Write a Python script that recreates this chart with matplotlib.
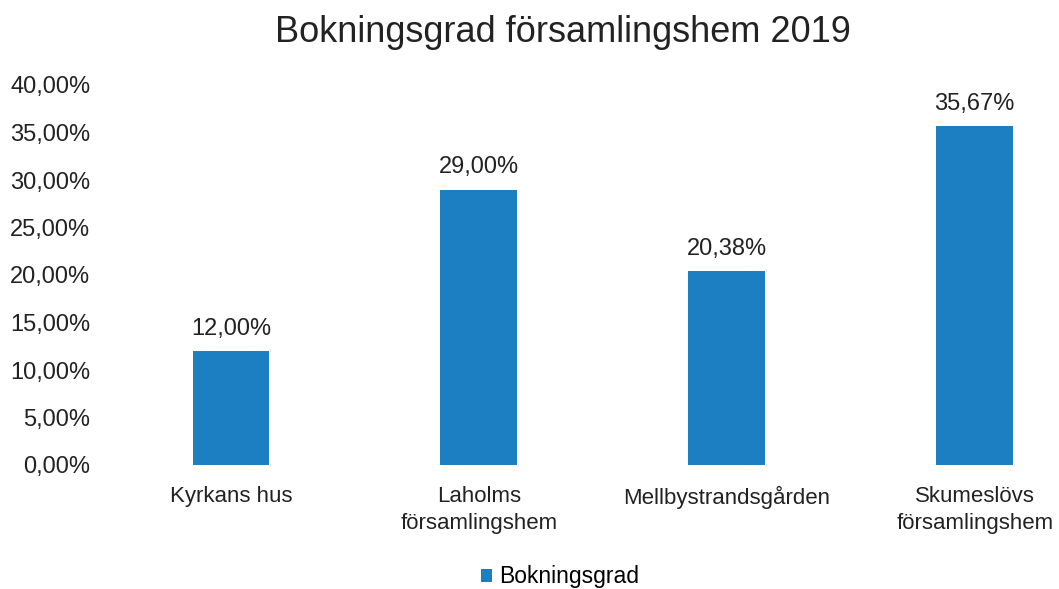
import numpy as np
import matplotlib.pyplot as plt
from matplotlib.ticker import FuncFormatter

plt.rcParams["font.family"] = ["Liberation Sans", "DejaVu Sans"]

categories = ["Kyrkans hus", "Laholms\nförsamlingshem", "Mellbystrandsgården", "Skumeslövs\nförsamlingshem"]
values = [0.12, 0.29, 0.2038, 0.3567]
value_labels = ["12,00%", "29,00%", "20,38%", "35,67%"]
yticks = [0.0, 0.05, 0.10, 0.15, 0.20, 0.25, 0.30, 0.35, 0.40]

bar_color = "#1B7FC1"

fig = plt.figure(figsize=(10.59, 5.89), dpi=100)
ax = fig.add_axes([107 / 1059, (589 - 465) / 589, (1059 - 107) / 1059, 380 / 589])

x = np.arange(len(categories))
bars = ax.bar(x, values, width=0.31, color=bar_color, label="Bokningsgrad")

for bar, lab in zip(bars, value_labels):
    ax.annotate(lab, (bar.get_x() + bar.get_width() / 2, bar.get_height()),
                xytext=(0, 8), textcoords="offset points",
                ha="center", va="bottom", fontsize=17, color="#222222")

ax.set_xlim(-0.5, 3.34)
ax.set_ylim(0, 0.40)
ax.set_yticks(yticks)
ax.yaxis.set_major_formatter(FuncFormatter(lambda v, p: f"{v * 100:.2f}%".replace(".", ",")))
ax.set_xticks(x)
ax.set_xticklabels(categories, fontsize=16, linespacing=1.4, color="#222222")
ax.tick_params(axis="y", length=0, pad=12, labelsize=17, labelcolor="#222222")
ax.tick_params(axis="x", length=0, pad=15)
for s in ax.spines.values():
    s.set_visible(False)

fig.suptitle("Bokningsgrad församlingshem 2019", x=563 / 1059, y=1 - 33 / 589,
             va="center", fontsize=26, color="#222222")

fig.legend(handles=[bars], labels=["Bokningsgrad"], loc="center",
           bbox_to_anchor=(560 / 1059, 1 - 577 / 589), frameon=False,
           fontsize=16.5, handlelength=0.5, handleheight=0.5, handletextpad=0.3)

fig.savefig("out.png", dpi=100, facecolor="white")
